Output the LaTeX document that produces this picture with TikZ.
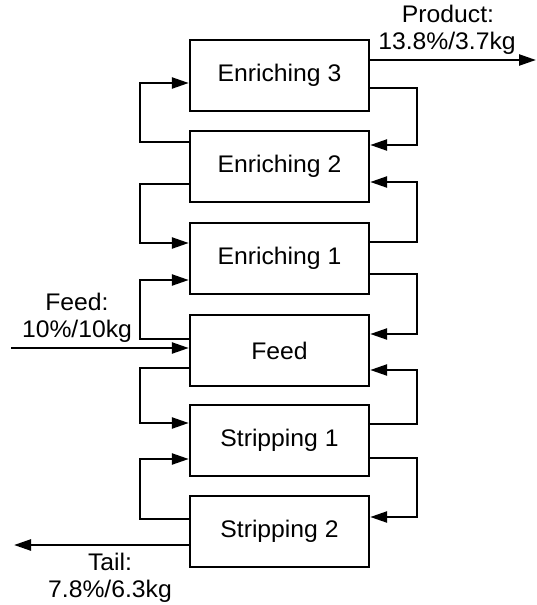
\documentclass[tikz,border=0pt]{standalone}
\usepackage{fontspec}
\setmainfont{Liberation Sans}
\usetikzlibrary{arrows.meta}
\begin{document}
\begin{tikzpicture}[x=1pt,y=-1pt,
  stage/.style={draw,line width=2.4pt,minimum width=179pt,minimum height=71pt,inner sep=0pt,font=\fontsize{24}{28}\selectfont},
  lbl/.style={inner sep=0pt,font=\fontsize{24}{28}\selectfont},
  arr/.style={line width=2.4pt,-{Triangle[length=17pt,width=11pt]}}]
\useasboundingbox (0,0) rectangle (536,605);
\node[stage] (e3) at (279.5,75.5) {\scalebox{1.03}[1]{Enriching 3}};
\node[stage] (e2) at (279.5,166.5) {\scalebox{1.03}[1]{Enriching 2}};
\node[stage] (e1) at (279.5,258.5) {\scalebox{1.03}[1]{Enriching 1}};
\node[stage] (fd) at (279.5,350.5) {\scalebox{1.03}[1]{Feed}};
\node[stage] (s1) at (279.5,440.5) {\scalebox{1.03}[1]{Stripping 1}};
\node[stage] (s2) at (279.5,531.5) {\scalebox{1.03}[1]{Stripping 2}};
% left loops
\draw[arr] (e2.west|-0,142) -- (140,142) -- (140,83) -- (e3.west|-0,83);
\draw[arr] (e2.west|-0,184) -- (140,184) -- (140,243) -- (e1.west|-0,243);
\draw[arr] (fd.west|-0,339) -- (140,339) -- (140,280) -- (e1.west|-0,280);
\draw[arr] (fd.west|-0,368) -- (140,368) -- (140,423) -- (s1.west|-0,423);
\draw[arr] (s2.west|-0,519) -- (140,519) -- (140,459) -- (s1.west|-0,459);
% right loops
\draw[arr] (e3.east|-0,88) -- (417,88) -- (417,145) -- (e2.east|-0,145);
\draw[arr] (e1.east|-0,242) -- (417,242) -- (417,182) -- (e2.east|-0,182);
\draw[arr] (e1.east|-0,274) -- (417,274) -- (417,334) -- (fd.east|-0,334);
\draw[arr] (s1.east|-0,424) -- (417,424) -- (417,370) -- (fd.east|-0,370);
\draw[arr] (s1.east|-0,458) -- (417,458) -- (417,517) -- (s2.east|-0,517);
% external streams
\coordinate (prodend) at (536,60);
\coordinate (feedstart) at (11,348);
\coordinate (tailend) at (14,545);
\draw[arr] (e3.east|-0,60) -- (prodend);
\draw[arr] (feedstart) -- (fd.west|-0,348);
\draw[arr] (s2.west|-0,545) -- (tailend);
% labels
\node[lbl] (p1) at (448,14) {\scalebox{1.03}[1]{Product:}};
\node[lbl] (p2) at (447,43) {\scalebox{1.03}[1]{13.8\%/3.7kg}};
\node[lbl] (f1) at (77,302) {\scalebox{1.03}[1]{Feed:}};
\node[lbl] (f2) at (77,331) {\scalebox{1.03}[1]{10\%/10kg}};
\node[lbl] (t1) at (110,562) {\scalebox{1.03}[1]{Tail:}};
\node[lbl] (t2) at (110,591) {\scalebox{1.03}[1]{7.8\%/6.3kg}};
\end{tikzpicture}
\end{document}
